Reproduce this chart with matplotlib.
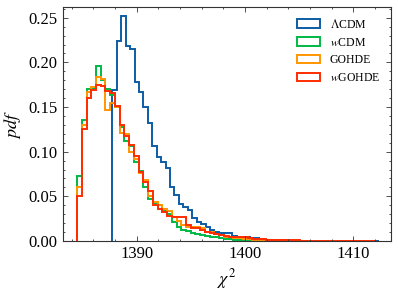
import numpy as np
import matplotlib
matplotlib.use("Agg")
import matplotlib.pyplot as plt
from matplotlib.patches import Patch
from matplotlib.ticker import MultipleLocator

plt.rcParams['font.family'] = 'serif'
plt.rcParams['font.serif'] = ['Liberation Serif', 'DejaVu Serif']
plt.rcParams['mathtext.fontset'] = 'stix'

labels = [r'$\Lambda$CDM', r'$w$CDM', 'GOHDE', r'$w$GOHDE']
colors = ['#0C5DA5', '#00B945', '#FF9500', '#FF2C00']

# histogram bins: (start, bin width)
lcdm_start, lcdm_width = 1387.75, 0.41
other_start, other_width = 1384.5, 0.437

lcdm_pdf = [0.169, 0.2235, 0.2515, 0.218, 0.215, 0.1775, 0.167, 0.1505, 0.132,
            0.106, 0.0945, 0.088, 0.0815, 0.060, 0.0515, 0.0415, 0.038, 0.035,
            0.0255, 0.0217, 0.019, 0.016, 0.0123, 0.0104, 0.0093, 0.0093, 0.0086,
            0.0056, 0.005, 0.004, 0.004, 0.003, 0.003, 0.002, 0.0015, 0.001,
            0.001, 0.0008, 0.0008, 0.0006, 0.0005, 0.0005, 0.0004, 0.0004, 0.0003,
            0.0003, 0.0002, 0.0002, 0.0002, 0.0001, 0.0001, 0.0001, 0.0001, 0.0,
            0.0001, 0.0, 0.0, 0.0001, 0.0, 0.0001]

wcdm_pdf = [0.073, 0.136, 0.170, 0.171, 0.196, 0.180, 0.170, 0.164, 0.150,
            0.128, 0.112, 0.106, 0.089, 0.078, 0.060, 0.047, 0.043, 0.040,
            0.034, 0.030, 0.021, 0.016, 0.012, 0.011, 0.009, 0.008, 0.0067,
            0.006, 0.005, 0.004, 0.003, 0.002, 0.002, 0.0015, 0.001, 0.001,
            0.0008, 0.0006, 0.0005, 0.0004, 0.0004, 0.0003, 0.0003, 0.0002,
            0.0002, 0.0002, 0.0001, 0.0001, 0.0001, 0.0001, 0.0, 0.0001, 0.0,
            0.0, 0.0001, 0.0, 0.0, 0.0, 0.0, 0.0, 0.0, 0.0, 0.0]

gohde_pdf = [0.061, 0.130, 0.167, 0.172, 0.184, 0.181, 0.147, 0.155, 0.150,
             0.121, 0.120, 0.100, 0.092, 0.076, 0.068, 0.050, 0.044, 0.040,
             0.036, 0.034, 0.027, 0.022, 0.018, 0.016, 0.016, 0.016, 0.015,
             0.010, 0.010, 0.008, 0.007, 0.005, 0.004, 0.003, 0.003, 0.002,
             0.002, 0.0015, 0.0012, 0.001, 0.0008, 0.0007, 0.0006, 0.0005,
             0.0004, 0.0004, 0.0003, 0.0003, 0.0002, 0.0002, 0.0002, 0.0001,
             0.0001, 0.0001, 0.0001, 0.0001, 0.0, 0.0001, 0.0, 0.0001, 0.0,
             0.0, 0.0001]

wgohde_pdf = [0.050, 0.125, 0.160, 0.169, 0.175, 0.174, 0.168, 0.166, 0.151,
              0.130, 0.118, 0.107, 0.095, 0.077, 0.066, 0.056, 0.040, 0.036,
              0.033, 0.028, 0.027, 0.027, 0.027, 0.018, 0.014, 0.014, 0.012,
              0.010, 0.009, 0.008, 0.007, 0.006, 0.005, 0.005, 0.004, 0.004,
              0.003, 0.0025, 0.002, 0.0018, 0.0015, 0.0012, 0.001, 0.0009,
              0.0008, 0.0007, 0.0006, 0.0005, 0.0004, 0.0003, 0.0003, 0.0002,
              0.0002, 0.0002, 0.0001, 0.0001, 0.0001, 0.0, 0.0, 0.0, 0.0, 0.0,
              0.0]

series = [(lcdm_pdf, lcdm_start, lcdm_width),
          (wcdm_pdf, other_start, other_width),
          (gohde_pdf, other_start, other_width),
          (wgohde_pdf, other_start, other_width)]

fig = plt.figure(figsize=(3.98, 2.93), dpi=100)
ax = fig.add_axes([0.1575, 0.1775, 0.8242, 0.7985])

lw = 1.4
for (vals, start, width), c in zip(series, colors):
    vals = np.asarray(vals)
    edges = start + width * np.arange(len(vals) + 1)
    ax.stairs(vals, edges, color=c, lw=lw, baseline=0)

ax.set_xlim(1383.17, 1413.45)
ax.set_ylim(0, 0.262)
ax.xaxis.set_major_locator(MultipleLocator(10))
ax.xaxis.set_minor_locator(MultipleLocator(2))
ax.yaxis.set_major_locator(MultipleLocator(0.05))
ax.yaxis.set_minor_locator(MultipleLocator(0.01))
ax.tick_params(which='both', direction='in', top=True, right=True,
               width=0.6, labelsize=12, color='#333333')
ax.tick_params(which='major', length=3.4)
ax.tick_params(which='minor', length=1.7)
for s in ax.spines.values():
    s.set_linewidth(0.8)
    s.set_color('#333333')

ax.set_xlabel(r'$\chi^2$', fontsize=13)
ax.set_ylabel(r'$pdf$', fontsize=13)

handles = [Patch(facecolor='none', edgecolor=c, lw=lw, label=l)
           for c, l in zip(colors, labels)]
ax.legend(handles=handles, loc='upper right', frameon=False, fontsize=8.5)

fig.savefig('out.png', dpi=100)
